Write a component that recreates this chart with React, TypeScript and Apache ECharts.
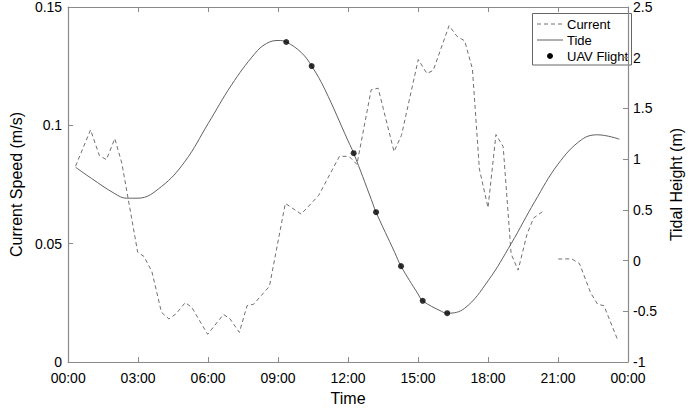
import React, { useEffect, useRef } from "react";
import * as echarts from "echarts";

// Time in hours since 00:00
const currentTimes = [
  0.32, 0.96, 1.34, 1.64, 2.0, 2.3, 2.98, 3.25, 3.59, 4.0, 4.32, 4.62, 5.02, 5.3, 5.98,
  6.66, 6.94, 7.34, 7.67, 7.95, 8.63, 9.31, 9.99, 10.74, 11.63, 12.04, 12.38, 12.99, 13.29,
  13.97, 14.29, 15.01, 15.38, 15.65, 16.33, 16.67, 17.0, 17.33, 17.63, 18.0, 18.34, 18.65,
  18.99, 19.29, 19.67, 19.95, 20.33, 20.67, 21.01, 21.58, 21.92, 22.4, 22.7, 22.97, 23.56,
];
const currentValues: (number | null)[] = [
  0.0828, 0.0981, 0.0872, 0.0855, 0.0944, 0.0841, 0.0464, 0.0446, 0.0382, 0.021, 0.0182,
  0.0203, 0.0251, 0.0231, 0.0117, 0.0201, 0.0182, 0.0125, 0.0238, 0.0244, 0.032, 0.067,
  0.0625, 0.0704, 0.0869, 0.0869, 0.0835, 0.115, 0.1157, 0.0889, 0.0958, 0.1278, 0.1219,
  0.1232, 0.1421, 0.1376, 0.1357, 0.1239, 0.0815, 0.0652, 0.0961, 0.091, 0.0457, 0.0388,
  0.0539, 0.0608, 0.0635, null, 0.0435, 0.0436, 0.0416, 0.0292, 0.0244, 0.0238, 0.0093,
];

const tideTimes = [
  0.32, 1.0, 2.0, 2.5, 3.0, 4.0, 5.0, 6.0, 7.0, 8.0, 8.5, 9.0, 9.35, 10.0, 10.44, 11.0,
  12.0, 12.24, 13.0, 13.2, 14.0, 14.27, 15.0, 15.2, 16.0, 16.25, 17.0, 18.0, 19.0, 20.0,
  21.0, 22.0, 22.7, 23.63,
];
const tideValues = [
  0.92, 0.81, 0.66, 0.615, 0.615, 0.73, 0.975, 1.35, 1.73, 2.04, 2.14, 2.17, 2.155, 2.05,
  1.918, 1.69, 1.18, 1.059, 0.6, 0.477, 0.08, -0.055, -0.33, -0.397, -0.5, -0.519, -0.47,
  -0.2, 0.17, 0.58, 0.95, 1.19, 1.24, 1.197,
];

const uavTimes = [9.35, 10.44, 12.24, 13.2, 14.27, 15.2, 16.25];
const uavHeights = [2.155, 1.918, 1.059, 0.477, -0.055, -0.397, -0.519];

const legendNames = ["Current", "Tide", "UAV Flight"];

const FONT = "'Liberation Sans', Arial, Helvetica, sans-serif";
const AXIS_COLOR = "#8a8a8a";
const CURRENT_COLOR = "#707070";
const TIDE_COLOR = "#606060";

const fmtTime = (v: number) => {
  const h = Math.round(v) % 24;
  return (h < 10 ? "0" : "") + h + ":00";
};

export default function App() {
  const ref = useRef<HTMLDivElement>(null);
  useEffect(() => {
    if (!ref.current) return;
    const chart = echarts.init(ref.current, undefined, { renderer: "svg" });
    const axisLine = { show: true, onZero: false, lineStyle: { color: AXIS_COLOR, width: 1.2 } };
    const axisTick = { show: true, inside: true, length: 5, lineStyle: { color: AXIS_COLOR } };
    const labelStyle = { color: "#000", fontSize: 14, fontFamily: FONT };
    const nameStyle = { color: "#000", fontSize: 16, fontFamily: FONT };

    const lx = 532.5;
    const ly = 13.5;
    const rowY = [24, 40, 56];
    const legendGraphic = {
      type: "group",
      z: 100,
      children: [
        {
          type: "rect",
          shape: { x: lx, y: ly, width: 99, height: 51.5 },
          style: { fill: "#fff", stroke: "#666", lineWidth: 1 },
        },
        {
          type: "line",
          shape: { x1: 537, y1: rowY[0], x2: 563, y2: rowY[0] },
          style: { stroke: CURRENT_COLOR, lineWidth: 1, lineDash: [4, 3] },
        },
        {
          type: "line",
          shape: { x1: 537, y1: rowY[1], x2: 563, y2: rowY[1] },
          style: { stroke: TIDE_COLOR, lineWidth: 1 },
        },
        {
          type: "circle",
          shape: { cx: 550, cy: rowY[2], r: 3 },
          style: { fill: "#000" },
        },
        ...legendNames.map((n, i) => ({
          type: "text",
          x: 567,
          y: rowY[i],
          style: {
            text: n,
            fill: "#000",
            fontSize: 13,
            fontFamily: FONT,
            verticalAlign: "middle",
            align: "left",
          },
        })),
      ],
    };

    chart.setOption({
      animation: false,
      backgroundColor: "#fff",
      grid: { left: 52.5, right: 53, top: 6.7, bottom: 40, containLabel: false },
      graphic: [legendGraphic],
      xAxis: [
        {
          type: "value",
          min: 0,
          max: 24,
          interval: 3,
          name: "Time",
          nameLocation: "middle",
          nameGap: 28,
          nameTextStyle: nameStyle,
          axisLine,
          axisTick,
          splitLine: { show: false },
          axisLabel: { ...labelStyle, margin: 9, formatter: fmtTime },
        },
        {
          type: "value",
          position: "top",
          min: 0,
          max: 24,
          interval: 3,
          axisLine,
          axisTick,
          splitLine: { show: false },
          axisLabel: { show: false },
        },
      ],
      yAxis: [
        {
          type: "value",
          min: 0,
          max: 0.15,
          interval: 0.05,
          name: "Current Speed (m/s)",
          nameLocation: "middle",
          nameGap: 40,
          nameTextStyle: nameStyle,
          axisLine,
          axisTick,
          splitLine: { show: false },
          axisLabel: { ...labelStyle, margin: 6 },
        },
        {
          type: "value",
          min: -1,
          max: 2.5,
          interval: 0.5,
          position: "right",
          name: "Tidal Height (m)",
          nameLocation: "middle",
          nameGap: 40,
          nameRotate: 90,
          nameTextStyle: nameStyle,
          axisLine,
          axisTick,
          splitLine: { show: false },
          axisLabel: { ...labelStyle, margin: 5 },
        },
      ],
      series: [
        {
          name: "Current",
          type: "line",
          xAxisIndex: 0,
          yAxisIndex: 0,
          symbol: "none",
          connectNulls: false,
          lineStyle: { color: CURRENT_COLOR, width: 1, type: [4, 3] },
          itemStyle: { color: CURRENT_COLOR },
          data: currentTimes.map((t, i) => [t, currentValues[i] === null ? "-" : currentValues[i]]),
        },
        {
          name: "Tide",
          type: "line",
          xAxisIndex: 0,
          yAxisIndex: 1,
          symbol: "none",
          smooth: 0.4,
          lineStyle: { color: TIDE_COLOR, width: 1 },
          itemStyle: { color: TIDE_COLOR },
          data: tideTimes.map((t, i) => [t, tideValues[i]]),
        },
        {
          name: "UAV Flight",
          type: "scatter",
          xAxisIndex: 0,
          yAxisIndex: 1,
          symbol: "circle",
          symbolSize: 6,
          itemStyle: { color: "#000" },
          z: 5,
          data: uavTimes.map((t, i) => [t, uavHeights[i]]),
        },
      ],
    });
    return () => chart.dispose();
  }, []);
  return <div ref={ref} style={{ width: 692, height: 411, position: "absolute", left: 0, top: 0 }} />;
}
